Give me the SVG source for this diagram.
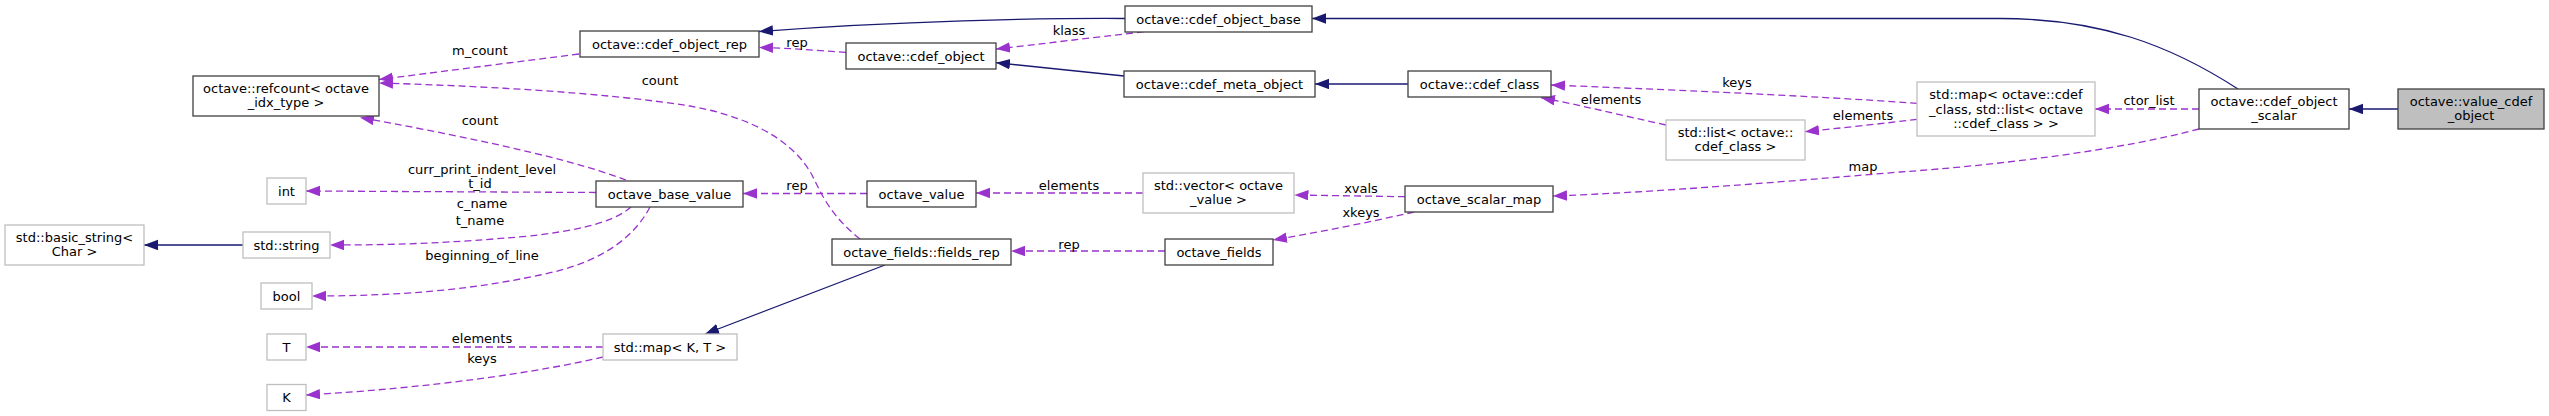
<svg xmlns="http://www.w3.org/2000/svg" width="2549" height="416" viewBox="0 0 2549 416">
<defs>
<style>
.n rect{fill:#fff;stroke:#404040;stroke-width:1.3}
.u rect{fill:#fff;stroke:#bfbfbf;stroke-width:1.3}
.cur rect{fill:#bfbfbf;stroke:#404040;stroke-width:1.3}
text{font-family:"DejaVu Sans","Liberation Sans",sans-serif;font-size:13px;fill:#000;text-anchor:middle}
.inh{fill:none;stroke:#191970;stroke-width:1.3;marker-end:url(#an)}
.use{fill:none;stroke:#9a32cd;stroke-width:1.3;stroke-dasharray:7,4;marker-end:url(#ap)}
</style>
<marker id="an" markerUnits="userSpaceOnUse" markerWidth="15" markerHeight="11" refX="14" refY="5.25" orient="auto"><path d="M0,0 L14,5.25 L0,10.5 z" fill="#191970"/></marker>
<marker id="ap" markerUnits="userSpaceOnUse" markerWidth="15" markerHeight="11" refX="14" refY="5.25" orient="auto"><path d="M0,0 L14,5.25 L0,10.5 z" fill="#9a32cd"/></marker>
</defs>
<rect width="2549" height="416" fill="#fff"/>
<g id="connectors">
<path class="inh" d="M1125,18.5 C1040,18 900,21 759,31.5"/>
<path class="inh" d="M1124,76 L996,62.7"/>
<path class="inh" d="M1408,84 L1315,84"/>
<path class="inh" d="M2238,89 C2170,45 2100,18.5 2000,18.5 L1312,18.5"/>
<path class="inh" d="M2398,109 L2349,109"/>
<path class="inh" d="M243,245 L144,245"/>
<path class="inh" d="M885,265 L705,334"/>
<path class="use" d="M579,54 C500,64 430,73 379,79.5"/>
<path class="use" d="M846,52.3 C810,50 790,48 759,47.5"/>
<path class="use" d="M1144,31.7 C1090,38 1040,44 996,49"/>
<path class="use" d="M860,239 C830,215 822,195 812,175 C790,135 740,115 690,106 C600,92 480,86 379,83"/>
<path class="use" d="M626,180 C560,155 440,132 360,117.5"/>
<path class="use" d="M596,192.5 L306,191"/>
<path class="use" d="M631,207 C610,225 570,231 530,236 C450,243 400,245 330,245"/>
<path class="use" d="M650,207 C630,245 590,265 540,275 C470,290 400,296 312,296"/>
<path class="use" d="M867,193.5 L743,193.5"/>
<path class="use" d="M1143,193 L976,193"/>
<path class="use" d="M1405,196.7 L1294.5,195"/>
<path class="use" d="M1414,212 C1370,222 1320,232 1273,240"/>
<path class="use" d="M1165,251 L1011,251"/>
<path class="use" d="M603,347 L306,347"/>
<path class="use" d="M603,357 C540,372 430,388 306,395"/>
<path class="use" d="M1917,103.3 C1800,95 1650,89 1551,85"/>
<path class="use" d="M1666,125 C1620,115 1580,105 1541,97.7"/>
<path class="use" d="M1917,119.3 C1880,124 1840,128 1805,131.7"/>
<path class="use" d="M2199,109 L2095,109"/>
<path class="use" d="M2199,129 C2120,150 2000,165 1900,172 C1780,182 1660,192 1553,196"/>
<text x="480" y="55">m_count</text>
<text x="797" y="47">rep</text>
<text x="1069" y="35">klass</text>
<text x="660" y="85">count</text>
<text x="480" y="124.5">count</text>
<text x="482" y="173.5">curr_print_indent_level</text>
<text x="480" y="188">t_id</text>
<text x="482" y="208">c_name</text>
<text x="480" y="224.5">t_name</text>
<text x="482" y="260">beginning_of_line</text>
<text x="797" y="189.5">rep</text>
<text x="1069" y="189.5">elements</text>
<text x="1361" y="193">xvals</text>
<text x="1361" y="217">xkeys</text>
<text x="1069" y="248.5">rep</text>
<text x="482" y="343">elements</text>
<text x="482" y="363">keys</text>
<text x="1737" y="87">keys</text>
<text x="1611" y="104">elements</text>
<text x="1863" y="120">elements</text>
<text x="2149" y="105">ctor_list</text>
<text x="1863" y="171">map</text>
</g>
<g id="n_cdef_object_rep" class="n"><rect x="580" y="31" width="179" height="26"/><text x="669.5" y="48.5">octave::cdef_object_rep</text></g>
<g id="n_cdef_object_base" class="n"><rect x="1125" y="6" width="187" height="26"/><text x="1218.5" y="23.5">octave::cdef_object_base</text></g>
<g id="n_cdef_object" class="n"><rect x="846" y="43" width="150" height="26"/><text x="921" y="60.5">octave::cdef_object</text></g>
<g id="n_refcount" class="n"><rect x="193" y="76" width="186" height="40"/><text x="286" y="92.5">octave::refcount&lt; octave</text><text x="286" y="107">_idx_type &gt;</text></g>
<g id="n_cdef_meta_object" class="n"><rect x="1124" y="71" width="191" height="26"/><text x="1219.5" y="88.5">octave::cdef_meta_object</text></g>
<g id="n_cdef_class" class="n"><rect x="1408" y="71" width="143" height="26"/><text x="1479.5" y="88.5">octave::cdef_class</text></g>
<g id="n_std_list" class="u"><rect x="1666" y="120" width="139" height="40"/><text x="1735.5" y="136.5">std::list&lt; octave::</text><text x="1735.5" y="151">cdef_class &gt;</text></g>
<g id="n_std_map_cdef" class="u"><rect x="1917" y="82" width="178" height="54"/><text x="2006" y="98.5">std::map&lt; octave::cdef</text><text x="2006" y="113.5">_class, std::list&lt; octave</text><text x="2006" y="128">::cdef_class &gt; &gt;</text></g>
<g id="n_cdef_object_scalar" class="n"><rect x="2199" y="89" width="150" height="40"/><text x="2274" y="105.5">octave::cdef_object</text><text x="2274" y="120">_scalar</text></g>
<g id="n_value_cdef_object" class="cur"><rect x="2398" y="89" width="146" height="40"/><text x="2471" y="105.5">octave::value_cdef</text><text x="2471" y="120">_object</text></g>
<g id="n_int" class="u"><rect x="267" y="178" width="39" height="26"/><text x="286.5" y="195.5">int</text></g>
<g id="n_octave_base_value" class="n"><rect x="596" y="181" width="147" height="26"/><text x="669.5" y="198.5">octave_base_value</text></g>
<g id="n_octave_value" class="n"><rect x="867" y="181" width="109" height="26"/><text x="921.5" y="198.5">octave_value</text></g>
<g id="n_std_vector" class="u"><rect x="1143" y="173" width="151" height="40"/><text x="1218.5" y="189.5">std::vector&lt; octave</text><text x="1218.5" y="204">_value &gt;</text></g>
<g id="n_octave_scalar_map" class="n"><rect x="1405" y="186" width="148" height="26"/><text x="1479" y="203.5">octave_scalar_map</text></g>
<g id="n_basic_string" class="u"><rect x="5" y="225" width="139" height="40"/><text x="74.5" y="241.5">std::basic_string&lt;</text><text x="74.5" y="256">Char &gt;</text></g>
<g id="n_std_string" class="u"><rect x="243" y="232" width="87" height="26"/><text x="286.5" y="249.5">std::string</text></g>
<g id="n_bool" class="u"><rect x="261" y="283" width="51" height="26"/><text x="286.5" y="300.5">bool</text></g>
<g id="n_T" class="u"><rect x="267" y="334" width="39" height="26"/><text x="286.5" y="351.5">T</text></g>
<g id="n_K" class="u"><rect x="267" y="384.5" width="39" height="26"/><text x="286.5" y="402">K</text></g>
<g id="n_std_map_KT" class="u"><rect x="603" y="334" width="134" height="26"/><text x="670" y="351.5">std::map&lt; K, T &gt;</text></g>
<g id="n_fields_rep" class="n"><rect x="832" y="239" width="179" height="26"/><text x="921.5" y="256.5">octave_fields::fields_rep</text></g>
<g id="n_octave_fields" class="n"><rect x="1165" y="239" width="108" height="26"/><text x="1219" y="256.5">octave_fields</text></g>
</svg>
